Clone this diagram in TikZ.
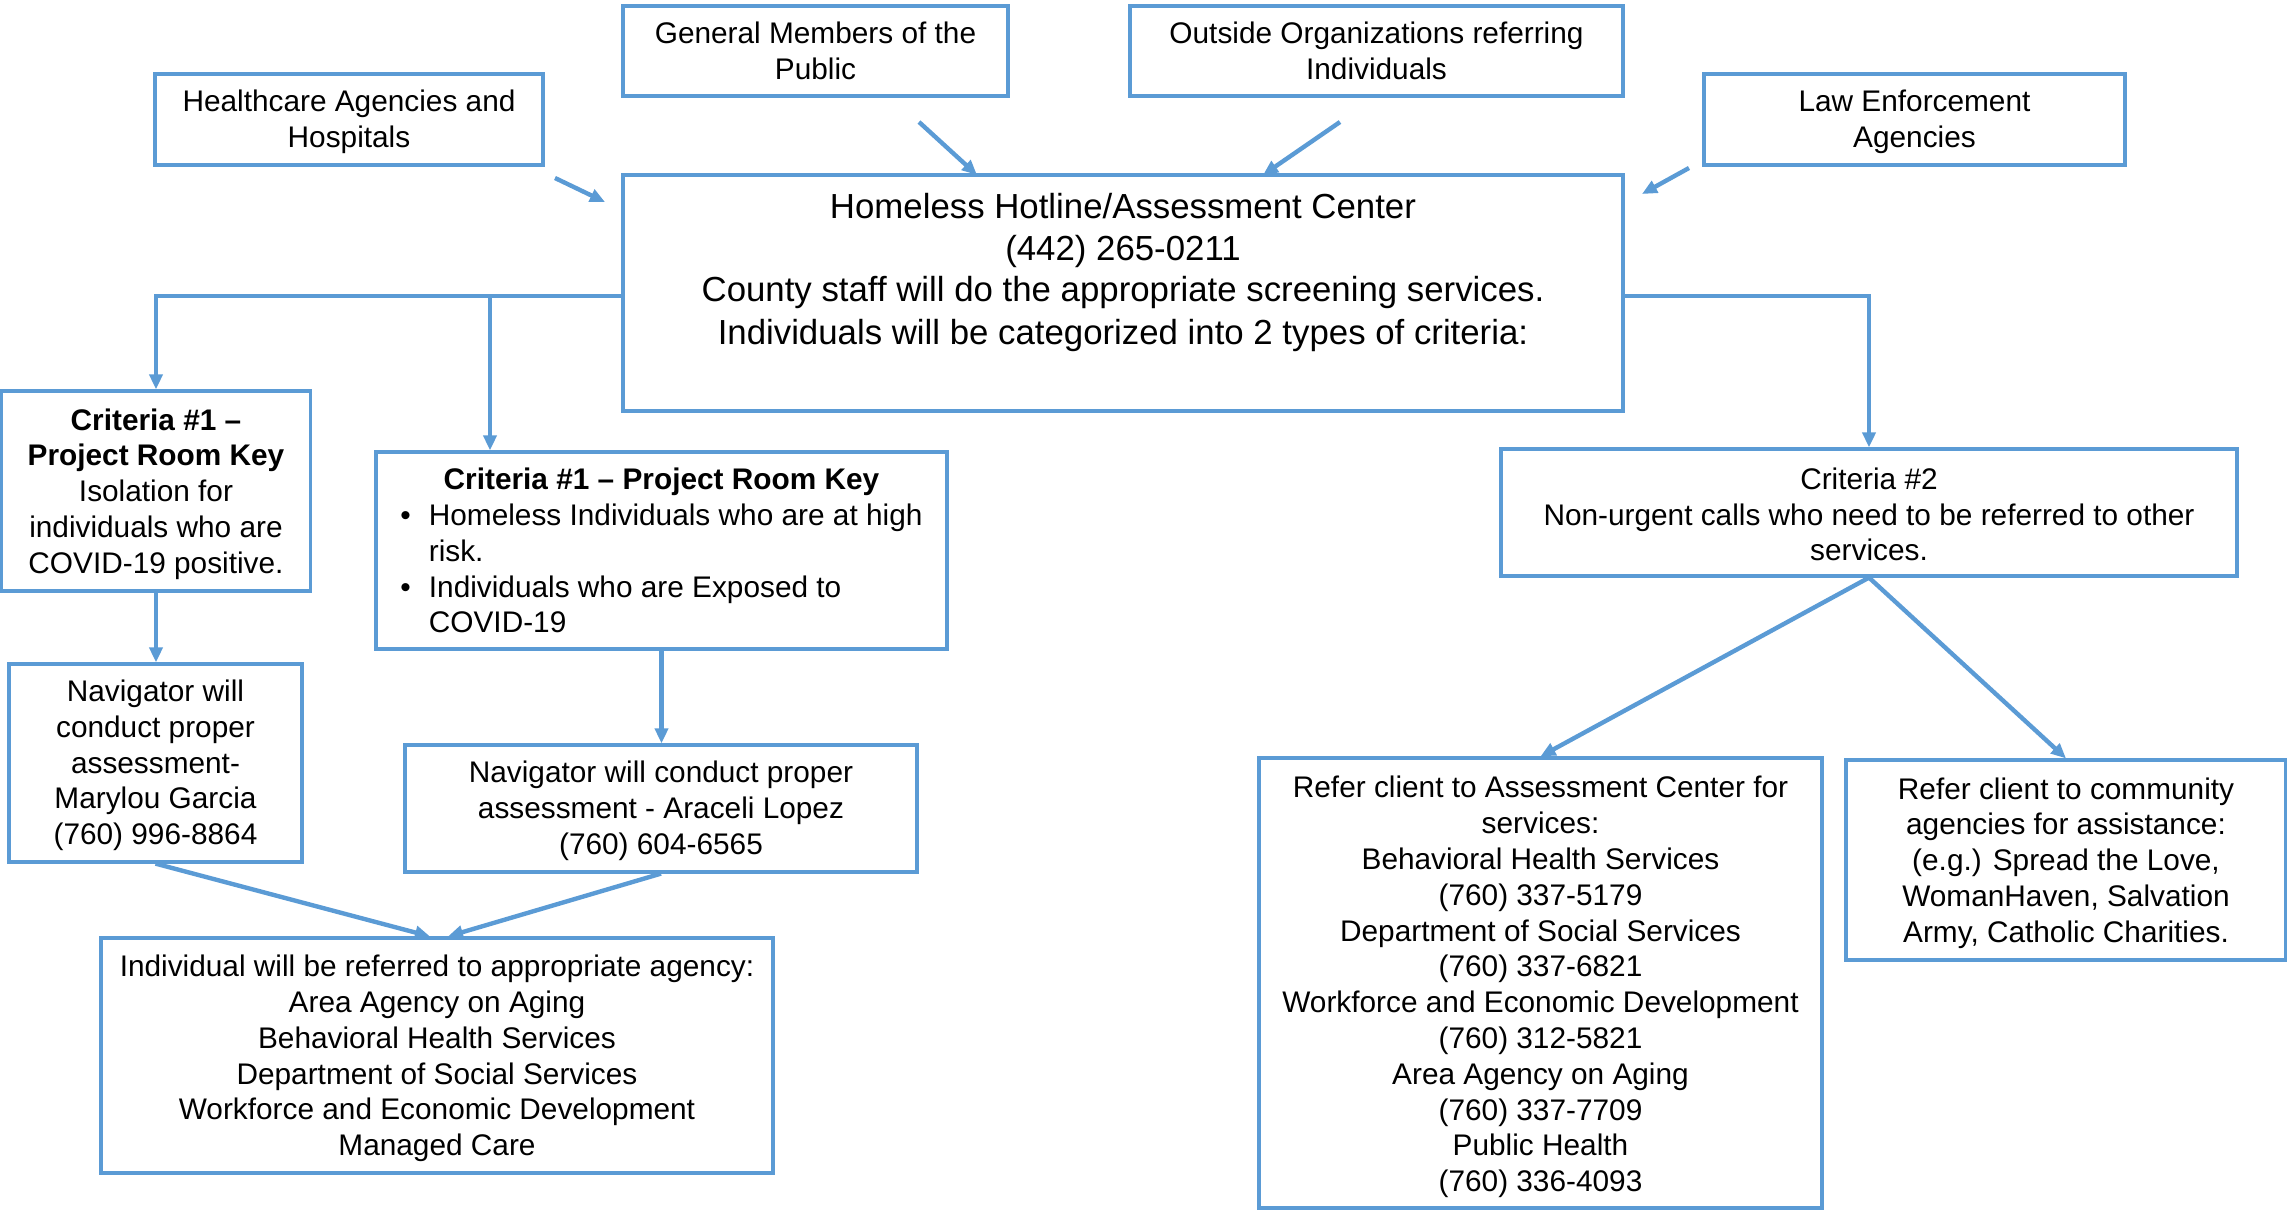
\documentclass[tikz,border=0pt]{standalone}
\usepackage{fontspec}
\setmainfont{Liberation Sans}
\usetikzlibrary{arrows.meta,calc}
\definecolor{lineblue}{RGB}{91,155,213}
\tikzset{
  box/.style={draw=lineblue, line width=1.6pt, fill=white, inner sep=0pt},
  txt/.style={inner sep=0pt, align=center, font=\fontsize{14.9}{17.9}\selectfont},
  conn/.style={draw=lineblue, line width=2.2pt, -{Triangle[length=7.5pt,width=6.5pt]}},
}
\begin{document}
\begin{tikzpicture}[x=0.5pt,y=-0.5pt]
\useasboundingbox (0,0) rectangle (2287,1210);
% source boxes
\node[box, minimum width=194pt, minimum height=45.5pt] (hc) at (349,119.5) {};
\node[txt] (hct) at ([yshift=-1.2pt]hc.center) {Healthcare Agencies and\\Hospitals};
\node[box, minimum width=192.5pt, minimum height=45pt] (gen) at (815.5,51) {};
\node[txt] (gent) at ([yshift=0pt]gen.center) {General Members of the\\Public};
\node[box, minimum width=246.5pt, minimum height=45pt] (out) at (1376.5,51) {};
\node[txt] (outt) at ([yshift=0pt]out.center) {Outside Organizations referring\\Individuals};
\node[box, minimum width=210.5pt, minimum height=45.5pt] (law) at (1914.5,119.5) {};
\node[txt] (lawt) at ([yshift=-1.2pt]law.center) {Law Enforcement\\Agencies};
% main box
\node[box, minimum width=500pt, minimum height=118pt] (main) at (1123,293) {};
\node[txt, font=\fontsize{17.4}{21}\selectfont] (maintxt) at (1123,272)
  {Homeless Hotline/Assessment Center\\(442) 265-0211\\County staff will do the appropriate screening services.\\Individuals will be categorized into 2 types of criteria:};
% criteria
\node[box, minimum width=154.5pt, minimum height=100pt] (c1l) at (156,491) {};
\node[txt] (c1lt) at ([yshift=-1.5pt]c1l.center)
  {\textbf{Criteria \#1 –}\\\textbf{Project Room Key}\\Isolation for\\individuals who are\\COVID-19 positive.};
\node[box, minimum width=285.5pt, minimum height=98.5pt] (c1m) at (661.5,550.5) {};
\node[txt] (c1mt) at (c1m.center)
  {\begin{tabular}{@{}l@{\hspace{9pt}}l@{}}
   \multicolumn{2}{c}{\rule{0pt}{16.1pt}\textbf{Criteria \#1 – Project Room Key}}\\
   \textbullet & Homeless Individuals who are at high\\
    & risk.\\
   \textbullet & Individuals who are Exposed to\\
    & COVID-19
   \end{tabular}};
\node[box, minimum width=368pt, minimum height=63.5pt] (c2) at (1869,512.5) {};
\node[txt] (c2t) at ([yshift=-1pt]c2.center)
  {Criteria \#2\\Non-urgent calls who need to be referred to other\\services.};
% navigators
\node[box, minimum width=146.5pt, minimum height=99pt] (navl) at (155.5,763) {};
\node[txt] (navlt) at ([yshift=-1.2pt]navl.center)
  {Navigator will\\conduct proper\\assessment-\\Marylou Garcia\\(760) 996-8864};
\node[box, minimum width=256pt, minimum height=63.5pt] (navm) at (661,808.5) {};
\node[txt] (navmt) at ([yshift=-1.2pt]navm.center)
  {Navigator will conduct proper\\assessment - Araceli Lopez\\(760) 604-6565};
\node[box, minimum width=336pt, minimum height=117.5pt] (ind) at (437,1055.5) {};
\node[txt] (indt) at ([yshift=-1.5pt]ind.center)
  {Individual will be referred to appropriate agency:\\Area Agency on Aging\\Behavioral Health Services\\Department of Social Services\\Workforce and Economic Development\\Managed Care};
\node[box, minimum width=281.5pt, minimum height=225pt] (ass) at (1540.5,983) {};
\node[txt] (asst) at ([yshift=-2pt]ass.center)
  {Refer client to Assessment Center for\\services:\\Behavioral Health Services\\(760) 337-5179\\Department of Social Services\\(760) 337-6821\\Workforce and Economic Development\\(760) 312-5821\\Area Agency on Aging\\(760) 337-7709\\Public Health\\(760) 336-4093};
\node[box, minimum width=220pt, minimum height=100pt] (com) at (2066,860) {};
\node[txt] (comt) at ([yshift=-1.5pt]com.center)
  {Refer client to community\\agencies for assistance:\\(e.g.) Spread the Love,\\WomanHaven, Salvation\\Army, Catholic Charities.};
% free arrows from sources
\coordinate (hcA) at (555,178);  \coordinate (hcB) at (605,202);
\coordinate (genA) at (919,122); \coordinate (genB) at (977,175);
\coordinate (outA) at (1340,122); \coordinate (outB) at (1263,175);
\coordinate (lawA) at (1689,168); \coordinate (lawB) at (1642,194);
\draw[conn] (hcA) -- (hcB);
\draw[conn] (genA) -- (genB);
\draw[conn] (outA) -- (outB);
\draw[conn] (lawA) -- (lawB);
% from main
\coordinate (mw) at (main.west |- 0,296);
\coordinate (me) at (main.east |- 0,296);
\coordinate (br) at (490,296);
\draw[conn] (mw) -| (c1l.north);
\draw[conn] (br) -- (br |- c1m.north);
\draw[conn] (me) -| (c2.north);
% down the chains
\draw[conn] (c1l.south) -- (c1l.south |- navl.north);
\draw[conn] (c1m.south) -- (c1m.south |- navm.north);
\draw[conn] (navl.south) -- ([xshift=-3.5pt]ind.north);
\draw[conn] (navm.south) -- ([xshift=5.5pt]ind.north);
\draw[conn] (c2.south) -- (ass.north);
\draw[conn] (c2.south) -- (com.north);
\end{tikzpicture}
\end{document}
